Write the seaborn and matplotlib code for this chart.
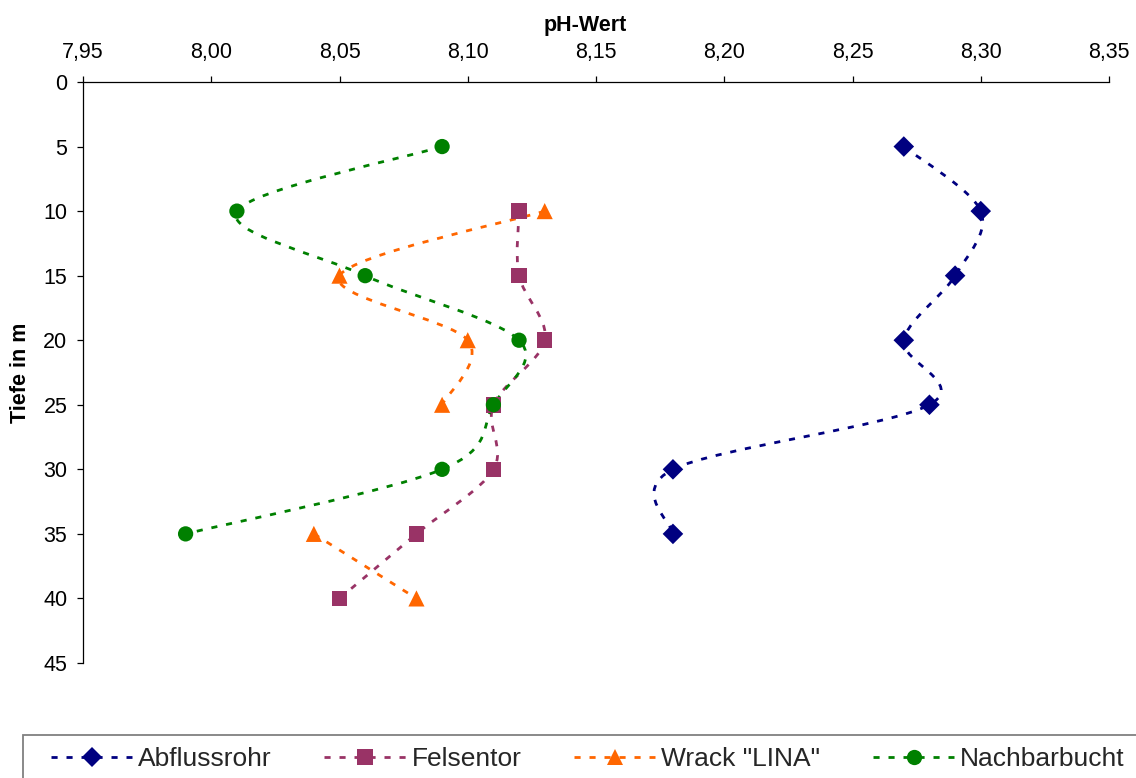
import numpy as np
import pandas as pd
import matplotlib
matplotlib.use("Agg")
import matplotlib.pyplot as plt
import seaborn as sns
from matplotlib.path import Path
from matplotlib.patches import PathPatch, Rectangle
from matplotlib.lines import Line2D
from matplotlib.ticker import FuncFormatter

# ---------------- data ----------------
depths = [5, 10, 15, 20, 25, 30, 35, 40]
series_names = ["Abflussrohr", "Felsentor", 'Wrack "LINA"', "Nachbarbucht"]
ph_abflussrohr = [8.27, 8.30, 8.29, 8.27, 8.28, 8.18, 8.18, np.nan]
ph_felsentor = [np.nan, 8.12, 8.12, 8.13, 8.11, 8.11, 8.08, 8.05]
ph_wrack = [np.nan, 8.13, 8.05, 8.10, 8.09, np.nan, 8.04, 8.08]
ph_nachbarbucht = [8.09, 8.01, 8.06, 8.12, 8.11, 8.09, 7.99, np.nan]
x_ticks = [7.95, 8.00, 8.05, 8.10, 8.15, 8.20, 8.25, 8.30, 8.35]
y_ticks = [0, 5, 10, 15, 20, 25, 30, 35, 40, 45]
x_label = "pH-Wert"
y_label = "Tiefe in m"

# ---------------- style ----------------
colors = {"Abflussrohr": "#000080", "Felsentor": "#993366",
          'Wrack "LINA"': "#FF6600", "Nachbarbucht": "#008000"}
markers = {"Abflussrohr": "D", "Felsentor": "s",
           'Wrack "LINA"': "^", "Nachbarbucht": "o"}
sizes = {"Abflussrohr": 110, "Felsentor": 125,
         'Wrack "LINA"': 135, "Nachbarbucht": 121}
dash = (0, (2.2, 3.2))
LW = 2.0

sns.set_theme(style="white")
plt.rcParams["font.family"] = ["Liberation Sans", "DejaVu Sans"]

all_ph = [ph_abflussrohr, ph_felsentor, ph_wrack, ph_nachbarbucht]
rows = []
for name, vals in zip(series_names, all_ph):
    for d, v in zip(depths, vals):
        rows.append({"Messstelle": name, "Tiefe": d, "pH": v})
df = pd.DataFrame(rows)

W, H = 1136, 778
fig = plt.figure(figsize=(W / 100, H / 100), dpi=100)
ax = fig.add_axes([83 / W, 1 - 663 / H, (1109 - 83) / W, (663 - 82) / H])


def smooth_path(xs, ys):
    pts = np.column_stack([xs, ys])
    n = len(pts)
    verts = [pts[0]]
    codes = [Path.MOVETO]
    for i in range(n - 1):
        p0 = pts[i - 1] if i > 0 else pts[i]
        p1 = pts[i]
        p2 = pts[i + 1]
        p3 = pts[i + 2] if i + 2 < n else pts[i + 1]
        c1 = p1 + (p2 - p0) / 6.0
        c2 = p2 - (p3 - p1) / 6.0
        verts += [c1, c2, p2]
        codes += [Path.CURVE4] * 3
    return Path(verts, codes)


# smoothed dashed lines (split at gaps)
for name in series_names:
    sub = df[df["Messstelle"] == name].sort_values("Tiefe")
    run_x, run_y = [], []
    segs = []
    for _, r in sub.iterrows():
        if np.isnan(r["pH"]):
            if run_x:
                segs.append((run_x, run_y))
            run_x, run_y = [], []
        else:
            run_x.append(r["pH"])
            run_y.append(r["Tiefe"])
    if run_x:
        segs.append((run_x, run_y))
    for sx, sy in segs:
        if len(sx) < 2:
            continue
        patch = PathPatch(smooth_path(sx, sy), fill=False, edgecolor=colors[name],
                          lw=LW, linestyle=dash, transform=ax.transData, zorder=2,
                          capstyle="butt")
        ax.add_patch(patch)

# markers
sns.scatterplot(data=df.dropna(), x="pH", y="Tiefe", hue="Messstelle",
                style="Messstelle", size="Messstelle", palette=colors,
                markers=markers, sizes=sizes, hue_order=series_names,
                style_order=series_names, size_order=series_names,
                linewidth=0, legend=False, ax=ax, zorder=3)

# axes
ax.set_xlim(x_ticks[0], x_ticks[-1])
ax.set_ylim(y_ticks[-1], y_ticks[0])
ax.set_xticks(x_ticks)
ax.set_yticks(y_ticks)
ax.xaxis.set_major_formatter(FuncFormatter(lambda v, p: f"{v:.2f}".replace(".", ",")))
ax.xaxis.tick_top()
ax.xaxis.set_label_position("top")
for s in ["bottom", "right"]:
    ax.spines[s].set_visible(False)
for s in ["top", "left"]:
    ax.spines[s].set_color("black")
    ax.spines[s].set_linewidth(0.9)
ax.tick_params(axis="x", which="both", top=True, bottom=False, direction="out",
               length=4.3, width=0.9, color="black", labelsize=15.5, pad=9.5,
               labelcolor="black")
ax.tick_params(axis="y", which="both", left=True, direction="out",
               length=4.3, width=0.9, color="black", labelsize=15.5, pad=7,
               labelcolor="black")
ax.set_xlabel(x_label, fontsize=15.5, fontweight="bold", color="black")
ax.set_ylabel(y_label, fontsize=15.5, fontweight="bold", color="black")
ax.xaxis.set_label_coords((585 - 83) / 1026, 1 + (82 - 31) / 581)
ax.yaxis.set_label_coords((31 - 83) / 1026, 0.5)
ax.grid(False)

# legend
fig.patches.append(Rectangle((23 / W, -0.05), (1200 - 23) / W, 1 - 735 / H + 0.05,
                             transform=fig.transFigure, fill=False,
                             edgecolor="#808080", lw=1.3, zorder=1))
handles = [Line2D([], [], color=colors[n], lw=LW, linestyle=dash,
                  marker=markers[n], markersize=np.sqrt(sizes[n]),
                  markeredgewidth=0, dash_capstyle="butt") for n in series_names]
fig.legend(handles, series_names, loc="center left",
           bbox_to_anchor=(51 / W, 1 - 759 / H), ncol=4, frameon=False,
           fontsize=19, handlelength=3.07, handletextpad=0.23,
           columnspacing=2.0, borderaxespad=0, borderpad=0, numpoints=1)

fig.savefig("out.png", dpi=100)
